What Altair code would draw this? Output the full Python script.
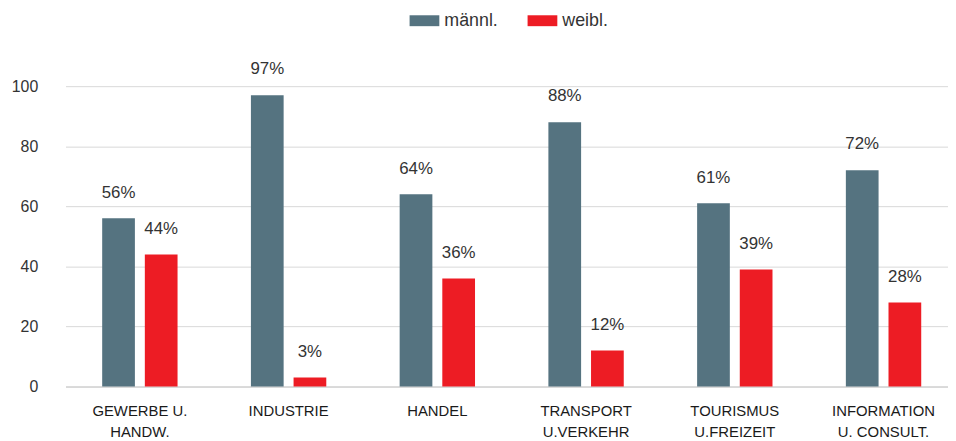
import altair as alt
import pandas as pd

categories = ["GEWERBE U.|HANDW.", "INDUSTRIE", "HANDEL", "TRANSPORT|U.VERKEHR",
              "TOURISMUS|U.FREIZEIT", "INFORMATION|U. CONSULT."]
maennl = [56, 97, 64, 88, 61, 72]
weibl = [44, 3, 36, 12, 39, 28]
series = ["männl.", "weibl."]
colors = ["#557380", "#ED1C24"]
y_ticks = [0, 20, 40, 60, 80, 100]

rows = []
for c, m, w in zip(categories, maennl, weibl):
    rows.append({"cat": c, "series": series[0], "value": m})
    rows.append({"cat": c, "series": series[1], "value": w})
df = pd.DataFrame(rows)
df["label"] = df["value"].astype(str) + "%"

FONT = "Liberation Sans"

x = alt.X("cat:N", sort=categories,
          scale=alt.Scale(paddingInner=0.4933, paddingOuter=0.2133, align=0.578),
          axis=alt.Axis(title=None, labelExpr="split(datum.label, '|')", labelAngle=0,
                        labelFont=FONT, labelFontSize=15, labelColor="#1a1a1a",
                        labelPadding=17, labelLineHeight=21, labelBaseline="top",
                        ticks=False, domain=True, domainColor="#d4d4d4", domainWidth=1.5))
xo = alt.XOffset("series:N", sort=series, scale=alt.Scale(paddingInner=0.233, paddingOuter=0))
y = alt.Y("value:Q", scale=alt.Scale(domain=[0, 100]),
          axis=alt.Axis(title=None, values=y_ticks, grid=True, gridColor="#d9d9d9", gridWidth=1,
                        domain=False, ticks=False, tickSize=0, labelPadding=28,
                        labelFont=FONT, labelFontSize=16, labelColor="#333333"))
color = alt.Color("series:N", scale=alt.Scale(domain=series, range=colors),
                  legend=alt.Legend(title=None, orient="none", legendX=347, legendY=-81,
                                    direction="horizontal", symbolType="M-1,-0.367h2v0.733h-2z",
                                    symbolSize=900, symbolStrokeWidth=0, symbolOpacity=1,
                                    labelFont=FONT, labelFontSize=18, labelColor="#333333",
                                    columnPadding=29, labelOffset=5))

base = alt.Chart(df)
bars = base.mark_bar().encode(x=x, xOffset=xo, y=y, color=color)
text = base.mark_text(dy=-21, baseline="alphabetic", font=FONT, fontSize=17, color="#333333").encode(
    x=x, xOffset=xo, y=y, text="label:N")

chart = alt.layer(bars, text).properties(
    width=890, height=303,
    padding={"left": 58, "top": 77, "right": 0, "bottom": 52},
    autosize=alt.AutoSizeParams(type="none"),
).configure_view(stroke=None)

chart.save("out.html", embed_options={"renderer": "svg", "actions": False})
